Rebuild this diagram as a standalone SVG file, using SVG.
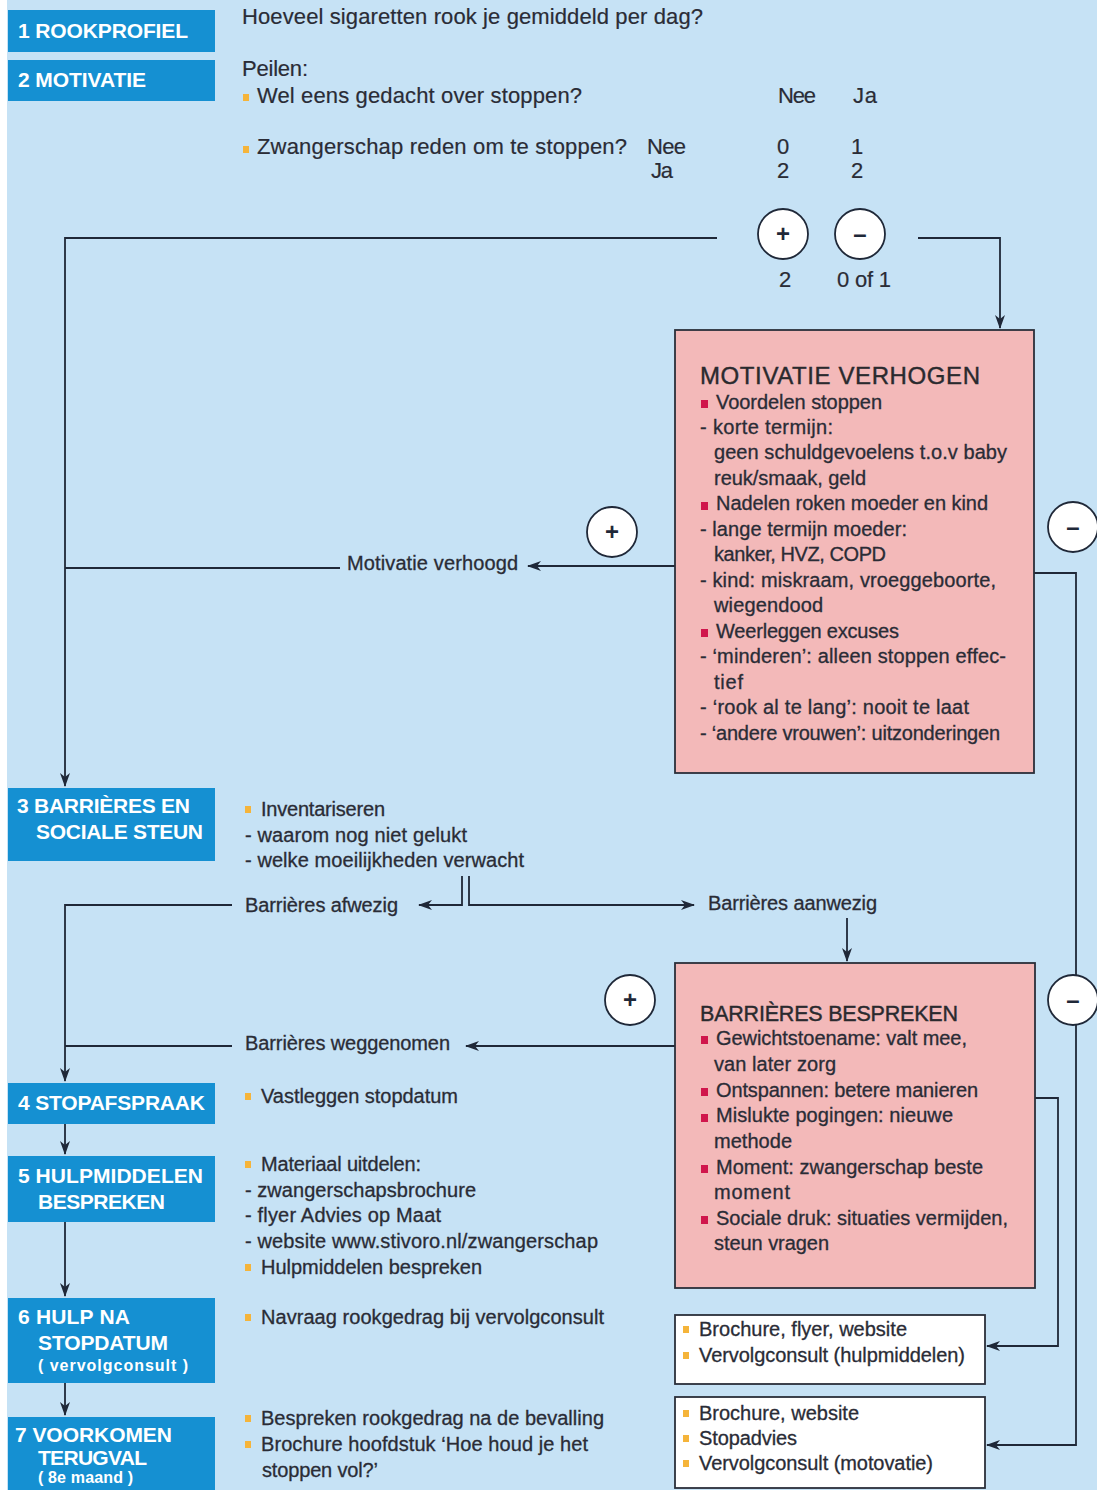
<svg xmlns="http://www.w3.org/2000/svg" width="1097" height="1490" viewBox="0 0 1097 1490">
<defs>
<style>
.bg{fill:#c6e2f5}
.step{fill:#1590d2}
.st{font-family:"Liberation Sans",Arial,sans-serif;font-weight:bold;font-size:21px;fill:#ffffff}
.sts{font-family:"Liberation Sans",Arial,sans-serif;font-weight:bold;font-size:16px;fill:#ffffff}
.t{font-family:"Liberation Sans",Arial,sans-serif;font-size:20px;fill:#2a2c36;stroke:#2a2c36;stroke-width:0.3}
.tl{font-family:"Liberation Sans",Arial,sans-serif;font-size:22px;fill:#2a2c36;stroke:#2a2c36;stroke-width:0.2}
.h{font-family:"Liberation Sans",Arial,sans-serif;font-size:24px;fill:#2a2a2e;stroke:#2a2a2e;stroke-width:0.4}
.h2{font-family:"Liberation Sans",Arial,sans-serif;font-size:21.5px;fill:#2a2a2e;stroke:#2a2a2e;stroke-width:0.4}
.pink{fill:#f3b9b9;stroke:#2b2f3a;stroke-width:1.8}
.white{fill:#ffffff;stroke:#2b2f3a;stroke-width:1.8}
.ob{fill:#f5b43a}
.rb{fill:#d0164c}
.ln{fill:none;stroke:#1f2838;stroke-width:1.8}
.circ{fill:#ffffff;stroke:#1f2838;stroke-width:1.8}
.sym{font-family:"Liberation Sans",Arial,sans-serif;font-weight:bold;font-size:24px;fill:#1f2838;text-anchor:middle}
</style>
<marker id="arr" viewBox="0 0 14 10" refX="13" refY="5" markerWidth="14" markerHeight="10" markerUnits="userSpaceOnUse" orient="auto">
<path d="M0,0 L14,5 L0,10 L4,5 Z" fill="#1f2838"/>
</marker>
</defs>
<rect x="7" y="0" width="1090" height="1490" class="bg"/>

<!-- connectors -->
<g id="connectors">
<path class="ln" d="M717,238 H65 V786" marker-end="url(#arr)"/>
<path class="ln" d="M918,238 H1000 V328" marker-end="url(#arr)"/>
<path class="ln" d="M675,566 H528" marker-end="url(#arr)"/>
<path class="ln" d="M340,568 H65"/>
<path class="ln" d="M1034,573 H1076 V1445 H987" marker-end="url(#arr)"/>
<path class="ln" d="M462,876 V905 H419" marker-end="url(#arr)"/>
<path class="ln" d="M469,876 V905 H694" marker-end="url(#arr)"/>
<path class="ln" d="M847,918 V961" marker-end="url(#arr)"/>
<path class="ln" d="M232,905 H65 V1081" marker-end="url(#arr)"/>
<path class="ln" d="M675,1046 H466" marker-end="url(#arr)"/>
<path class="ln" d="M232,1046 H65"/>
<path class="ln" d="M1035,1098 H1058 V1346 H987" marker-end="url(#arr)"/>
<path class="ln" d="M65,1124 V1154" marker-end="url(#arr)"/>
<path class="ln" d="M65,1222 V1296" marker-end="url(#arr)"/>
<path class="ln" d="M65,1383 V1415" marker-end="url(#arr)"/>
</g>

<!-- step 1 -->
<g id="step1">
<rect class="step" x="8" y="10" width="207" height="42"/>
<text class="st" x="18" y="38" textLength="170">1 ROOKPROFIEL</text>
<text class="tl" x="242" y="24" textLength="461">Hoeveel sigaretten rook je gemiddeld per dag?</text>
</g>

<!-- step 2 -->
<g id="step2">
<rect class="step" x="8" y="60" width="207" height="41"/>
<text class="st" x="18" y="87" textLength="128">2 MOTIVATIE</text>
<text class="tl" x="242" y="76" textLength="66">Peilen:</text>
<rect class="ob" x="243" y="94" width="6" height="7"/>
<text class="tl" x="257" y="103" textLength="325">Wel eens gedacht over stoppen?</text>
<text class="tl" x="778" y="103" textLength="38">Nee</text>
<text class="tl" x="853" y="103" textLength="24">Ja</text>
<rect class="ob" x="243" y="146" width="6" height="7"/>
<text class="tl" x="257" y="154" textLength="370">Zwangerschap reden om te stoppen?</text>
<text class="tl" x="647" y="154" textLength="39">Nee</text>
<text class="tl" x="777" y="154">0</text>
<text class="tl" x="851" y="154">1</text>
<text class="tl" x="651" y="178" textLength="22">Ja</text>
<text class="tl" x="777" y="178">2</text>
<text class="tl" x="851" y="178">2</text>
</g>

<!-- decision circles -->
<g id="decision-plus">
<circle class="circ" cx="783" cy="234" r="25"/>
<text class="sym" x="783" y="242">+</text>
<text class="tl" x="779" y="287">2</text>
</g>
<g id="decision-minus">
<circle class="circ" cx="860" cy="234" r="25"/>
<text class="sym" x="860" y="242">–</text>
<text class="tl" x="837" y="287" textLength="54">0 of 1</text>
</g>

<!-- motivatie verhogen -->
<g id="motivatie-verhogen">
<rect class="pink" x="675" y="330" width="359" height="443"/>
<text class="h" x="700" y="384" textLength="280">MOTIVATIE VERHOGEN</text>
<rect class="rb" x="701" y="400" width="7" height="8"/>
<text class="t" x="716" y="409" textLength="166">Voordelen stoppen</text>
<text class="t" x="700" y="434" textLength="133">- korte termijn:</text>
<text class="t" x="714" y="459" textLength="293">geen schuldgevoelens t.o.v baby</text>
<text class="t" x="714" y="485" textLength="152">reuk/smaak, geld</text>
<rect class="rb" x="701" y="502" width="7" height="8"/>
<text class="t" x="716" y="510" textLength="272">Nadelen roken moeder en kind</text>
<text class="t" x="700" y="536" textLength="207">- lange termijn moeder:</text>
<text class="t" x="714" y="561" textLength="172">kanker, HVZ, COPD</text>
<text class="t" x="700" y="587" textLength="296">- kind: miskraam, vroeggeboorte,</text>
<text class="t" x="714" y="612" textLength="109">wiegendood</text>
<rect class="rb" x="701" y="629" width="7" height="8"/>
<text class="t" x="716" y="638" textLength="183">Weerleggen excuses</text>
<text class="t" x="700" y="663" textLength="306">- ‘minderen’: alleen stoppen effec-</text>
<text class="t" x="714" y="689" textLength="29">tief</text>
<text class="t" x="700" y="714" textLength="269">- ‘rook al te lang’: nooit te laat</text>
<text class="t" x="700" y="740" textLength="300">- ‘andere vrouwen’: uitzonderingen</text>
</g>

<g id="plus-motivatie">
<circle class="circ" cx="612" cy="532" r="25"/>
<text class="sym" x="612" y="540">+</text>
</g>
<g id="minus-motivatie">
<circle class="circ" cx="1073" cy="527" r="25"/>
<text class="sym" x="1073" y="535">–</text>
</g>
<g id="label-motivatie-verhoogd">
<text class="t" x="347" y="570" textLength="171">Motivatie verhoogd</text>
</g>

<!-- step 3 -->
<g id="step3">
<rect class="step" x="8" y="788" width="207" height="73"/>
<text class="st" x="17" y="813" textLength="173">3 BARRIÈRES EN</text>
<text class="st" x="36" y="839" textLength="167">SOCIALE STEUN</text>
<rect class="ob" x="245" y="806" width="6" height="7"/>
<text class="t" x="261" y="816" textLength="124">Inventariseren</text>
<text class="t" x="245" y="842" textLength="222">- waarom nog niet gelukt</text>
<text class="t" x="245" y="867" textLength="279">- welke moeilijkheden verwacht</text>
</g>
<g id="label-afwezig">
<text class="t" x="245" y="912" textLength="153">Barrières afwezig</text>
</g>
<g id="label-aanwezig">
<text class="t" x="708" y="910" textLength="169">Barrières aanwezig</text>
</g>
<g id="label-weggenomen">
<text class="t" x="245" y="1050" textLength="205">Barrières weggenomen</text>
</g>

<!-- barrieres bespreken -->
<g id="barrieres-bespreken">
<rect class="pink" x="675" y="963" width="360" height="325"/>
<text class="h2" x="700" y="1021" textLength="258">BARRIÈRES BESPREKEN</text>
<rect class="rb" x="701" y="1036" width="7" height="8"/>
<text class="t" x="716" y="1045" textLength="251">Gewichtstoename: valt mee,</text>
<text class="t" x="714" y="1071" textLength="122">van later zorg</text>
<rect class="rb" x="701" y="1088" width="7" height="8"/>
<text class="t" x="716" y="1097" textLength="262">Ontspannen: betere manieren</text>
<rect class="rb" x="701" y="1114" width="7" height="8"/>
<text class="t" x="716" y="1122" textLength="237">Mislukte pogingen: nieuwe</text>
<text class="t" x="714" y="1148" textLength="78">methode</text>
<rect class="rb" x="701" y="1165" width="7" height="8"/>
<text class="t" x="716" y="1174" textLength="267">Moment: zwangerschap beste</text>
<text class="t" x="714" y="1199" textLength="76">moment</text>
<rect class="rb" x="701" y="1216" width="7" height="8"/>
<text class="t" x="716" y="1225" textLength="292">Sociale druk: situaties vermijden,</text>
<text class="t" x="714" y="1250" textLength="115">steun vragen</text>
</g>
<g id="plus-barrieres">
<circle class="circ" cx="630" cy="1000" r="25"/>
<text class="sym" x="630" y="1008">+</text>
</g>
<g id="minus-barrieres">
<circle class="circ" cx="1073" cy="1000" r="25"/>
<text class="sym" x="1073" y="1008">–</text>
</g>

<!-- step 4 -->
<g id="step4">
<rect class="step" x="8" y="1083" width="207" height="41"/>
<text class="st" x="18" y="1110" textLength="187">4 STOPAFSPRAAK</text>
<rect class="ob" x="245" y="1093" width="6" height="7"/>
<text class="t" x="261" y="1103" textLength="197">Vastleggen stopdatum</text>
</g>

<!-- step 5 -->
<g id="step5">
<rect class="step" x="8" y="1156" width="207" height="66"/>
<text class="st" x="18" y="1183" textLength="185">5 HULPMIDDELEN</text>
<text class="st" x="38" y="1209" textLength="127">BESPREKEN</text>
<rect class="ob" x="245" y="1161" width="6" height="7"/>
<text class="t" x="261" y="1171" textLength="160">Materiaal uitdelen:</text>
<text class="t" x="245" y="1197" textLength="231">- zwangerschapsbrochure</text>
<text class="t" x="245" y="1222" textLength="196">- flyer Advies op Maat</text>
<text class="t" x="245" y="1248" textLength="353">- website www.stivoro.nl/zwangerschap</text>
<rect class="ob" x="245" y="1264" width="6" height="7"/>
<text class="t" x="261" y="1274" textLength="221">Hulpmiddelen bespreken</text>
</g>

<!-- step 6 -->
<g id="step6">
<rect class="step" x="8" y="1298" width="207" height="85"/>
<text class="st" x="18" y="1324" textLength="112">6 HULP NA</text>
<text class="st" x="38" y="1350" textLength="130">STOPDATUM</text>
<text class="sts" x="38" y="1371" textLength="150">( vervolgconsult )</text>
<rect class="ob" x="245" y="1314" width="6" height="7"/>
<text class="t" x="261" y="1324" textLength="343">Navraag rookgedrag bij vervolgconsult</text>
</g>

<!-- step 7 -->
<g id="step7">
<rect class="step" x="8" y="1417" width="207" height="73"/>
<text class="st" x="15" y="1442" textLength="157">7 VOORKOMEN</text>
<text class="st" x="38" y="1465" textLength="109">TERUGVAL</text>
<text class="sts" x="38" y="1483" textLength="95">( 8e maand )</text>
<rect class="ob" x="245" y="1415" width="6" height="7"/>
<text class="t" x="261" y="1425" textLength="343">Bespreken rookgedrag na de bevalling</text>
<rect class="ob" x="245" y="1441" width="6" height="7"/>
<text class="t" x="261" y="1451" textLength="327">Brochure hoofdstuk ‘Hoe houd je het</text>
<text class="t" x="262" y="1477" textLength="116">stoppen vol?’</text>
</g>

<!-- white boxes -->
<g id="hulp-box-1">
<rect class="white" x="675" y="1315" width="310" height="69"/>
<rect class="ob" x="683" y="1326" width="6" height="7"/>
<text class="t" x="699" y="1336" textLength="208">Brochure, flyer, website</text>
<rect class="ob" x="683" y="1352" width="6" height="7"/>
<text class="t" x="699" y="1362" textLength="266">Vervolgconsult (hulpmiddelen)</text>
</g>
<g id="hulp-box-2">
<rect class="white" x="675" y="1397" width="310" height="91"/>
<rect class="ob" x="683" y="1410" width="6" height="7"/>
<text class="t" x="699" y="1420" textLength="160">Brochure, website</text>
<rect class="ob" x="683" y="1435" width="6" height="7"/>
<text class="t" x="699" y="1445" textLength="98">Stopadvies</text>
<rect class="ob" x="683" y="1460" width="6" height="7"/>
<text class="t" x="699" y="1470" textLength="234">Vervolgconsult (motovatie)</text>
</g>
</svg>
